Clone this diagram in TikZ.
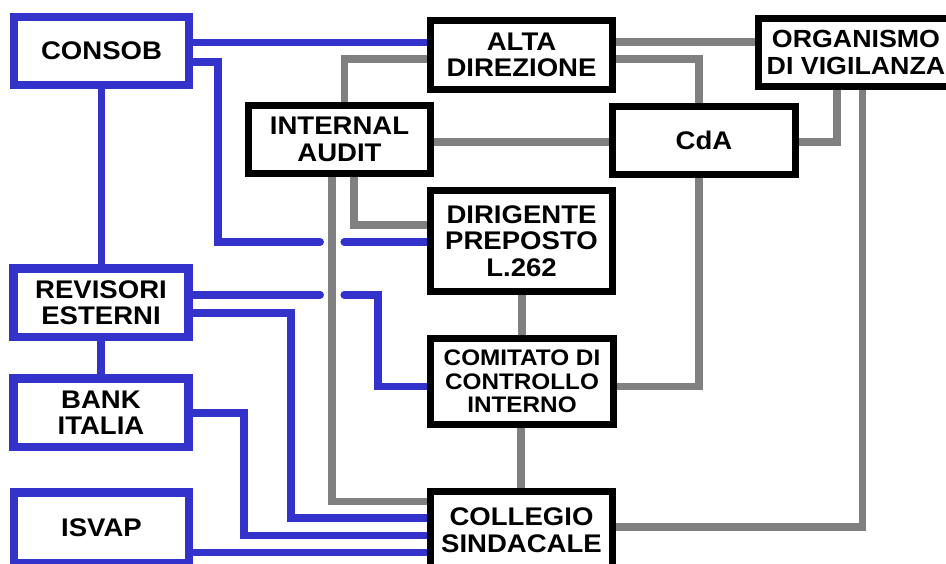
\documentclass[tikz,border=0pt]{standalone}
\usepackage{fontspec}
\newfontfamily\boxfont[FakeStretch=1.08]{Liberation Sans}
\usetikzlibrary{backgrounds}
\definecolor{vigblue}{HTML}{3333CC}
\definecolor{ctrlgray}{HTML}{808080}

\begin{document}
\begin{tikzpicture}[x=1pt, y=-1pt,
  ente/.style={draw=vigblue, line width=8.5pt, fill=white, minimum width=175pt,
    minimum height=68pt, inner sep=0pt, align=center,
    font=\boxfont\bfseries\fontsize{25.5}{26.5}\selectfont},
  organo/.style={draw=black, line width=7pt, fill=white, minimum width=182pt,
    minimum height=68pt, inner sep=0pt, align=center,
    font=\boxfont\bfseries\fontsize{25.5}{26.5}\selectfont},
  bluelink/.style={vigblue, line width=7.5pt, line cap=round},
  graylink/.style={ctrlgray, line width=7.5pt, line cap=round}]
  \useasboundingbox (0,0) rectangle (946,563);

  % external supervisors
  \node[ente] (consob) at (101.5,51) {CONSOB};
  \node[ente, minimum height=68.5pt] (revis) at (101,302.5) {REVISORI\\ESTERNI};
  \node[ente, minimum height=68.5pt] (bank) at (101,412.5) {BANK\\ITALIA};
  \node[ente, minimum height=70.5pt] (isvap) at (101.5,527.5) {ISVAP};

  % internal bodies
  \node[organo, minimum height=69pt] (alta) at (521.5,55) {ALTA\\DIREZIONE};
  \node[organo, minimum width=195pt,
    font=\boxfont\bfseries\fontsize{24.8}{26.5}\selectfont] (organ) at (856,52.5)
    {ORGANISMO\\DI VIGILANZA};
  \node[organo] (intaud) at (339.5,139.5) {INTERNAL\\AUDIT};
  \node[organo, minimum width=183pt] (cda) at (704,140.5) {CdA};
  \node[organo, minimum height=101pt] (dirig) at (521.5,241) {DIRIGENTE\\PREPOSTO\\L.262};
  \node[organo, minimum width=183pt, minimum height=86pt,
    font=\boxfont\bfseries\fontsize{22.5}{23.5}\selectfont] (comit) at (522,381.5)
    {COMITATO DI\\CONTROLLO\\INTERNO};
  \node[organo, minimum height=76.5pt] (colleg) at (521.5,530) {COLLEGIO\\SINDACALE};

  % crossings with the audit line
  \coordinate (jumpA) at (332.2,242);
  \coordinate (jumpB) at (332.2,294.8);

  \begin{scope}[on background layer]
    % blue links
    \draw[bluelink] (consob.south) -- (consob.south |- revis.north);
    \draw[bluelink] (revis.south) -- (revis.south |- bank.north);
    \draw[bluelink] (consob.east |- 0,42.5) -- (alta.west |- 0,42.5);
    \draw[bluelink] (consob.east |- 0,62) -| (218,242) -- ([xshift=-12pt]jumpA);
    \draw[bluelink] ([xshift=12pt]jumpA) -- (dirig.west |- jumpA);
    \draw[bluelink] (revis.east |- jumpB) -- ([xshift=-12pt]jumpB);
    \draw[bluelink] ([xshift=12pt]jumpB) -| (378,386.5) -- (comit.west |- 0,386.5);
    \draw[bluelink] (revis.east |- 0,313) -| (290.8,518) -- (colleg.west |- 0,518);
    \draw[bluelink] (bank.east |- 0,413) -| (243.8,535.5) -- (colleg.west |- 0,535.5);
    \draw[bluelink] (isvap.east |- 0,552.7) -- (colleg.west |- 0,552.7);

    % gray links
    \draw[graylink] (alta.east |- 0,42.2) -- (organ.west |- 0,42.2);
    \draw[graylink] (alta.east |- 0,59.2) -| (699.2,0 |- cda.north);
    \draw[graylink] (alta.west |- 0,59.2) -| (344.5,0 |- intaud.north);
    \draw[graylink] (intaud.east |- 0,142.2) -- (cda.west |- 0,142.2);
    \draw[graylink] (cda.east |- 0,142.2) -| (836.8,0 |- organ.south);
    \draw[graylink] (862.7,0 |- organ.south) |- (colleg.east |- 0,526.8);
    \draw[graylink] (699.2,0 |- cda.south) |- (comit.east |- 0,386.5);
    \draw[graylink] (522,0 |- dirig.south) -- (522,0 |- comit.north);
    \draw[graylink] (521,0 |- comit.south) -- (521,0 |- colleg.north);
    \draw[graylink] (354.2,0 |- intaud.south) |- (dirig.west |- 0,225.2);
    \draw[graylink] (332.2,0 |- intaud.south) |- (colleg.west |- 0,501.5);
  \end{scope}
\end{tikzpicture}
\end{document}
